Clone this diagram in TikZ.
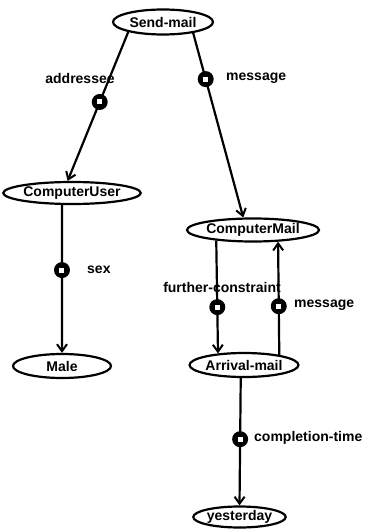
\documentclass[tikz,border=0pt]{standalone}
\usepackage{fontspec}
\setmainfont{Liberation Sans}
\usetikzlibrary{shapes.geometric,arrows.meta}
\newcommand{\hole}{\textcolor{white}{\rule{5pt}{5pt}}}
\tikzset{
  concept/.style={ellipse, draw=black, line width=2.2pt, inner sep=0pt,
    font=\fontsize{14}{16}\selectfont\bfseries},
  rel/.style={line width=2.2pt, -{Straight Barb[length=7pt,width=10pt,line width=2pt]}},
  marker/.style={circle, fill=black, minimum size=16pt, inner sep=0pt},
  lab/.style={inner sep=0pt, font=\fontsize{14}{16}\selectfont\bfseries}
}
\begin{document}
\begin{tikzpicture}[x=1pt,y=-1pt]
\useasboundingbox (0,0) rectangle (367,529);
\node[concept, minimum width=100pt, minimum height=25pt] (sm) at (163,22) {Send-mail};
\node[concept, minimum width=116pt, minimum height=22pt] (cu) at (72,193) {ComputerUser};
\node[concept, minimum width=120pt, minimum height=23pt] (cm) at (253,230) {ComputerMail};
\node[concept, minimum width=98pt, minimum height=24pt] (male) at (62,366) {Male};
\node[concept, minimum width=102pt, minimum height=24pt] (am) at (244,365) {Arrival-mail};
\node[concept, minimum width=85pt, minimum height=21pt] (yd) at (239.5,517) {yesterday};

\draw[rel] (sm.-164) -- node[marker, pos=0.47] (m1) {\hole} (cu.110);
\draw[rel] (sm.-20) -- node[marker, pos=0.25] (m2) {\hole} (cm.128);
\draw[rel] (cu.-130) -- node[marker, pos=0.44] (m3) {\hole} (male.north);
\draw[rel] (cm.-164) -- node[marker, pos=0.59] (m4) {\hole} (am.156);
\draw[rel] (am.16) -- node[marker, pos=0.43] (m5) {\hole} (cm.-25);
\draw[rel] (am.-104) -- node[marker, pos=0.48] (m6) {\hole} (yd.north);

\node[lab] (l1) at (80,78) {addressee};
\node[lab, anchor=west] (l2) at (226,78) {message};
\node[lab, anchor=west] (l3) at (87,270) {sex};
\node[lab] (l4) at (222,287) {further-constraint};
\node[lab, anchor=west] (l5) at (294,305) {message};
\node[lab, anchor=west] (l6) at (254,438) {completion-time};
\end{tikzpicture}
\end{document}
